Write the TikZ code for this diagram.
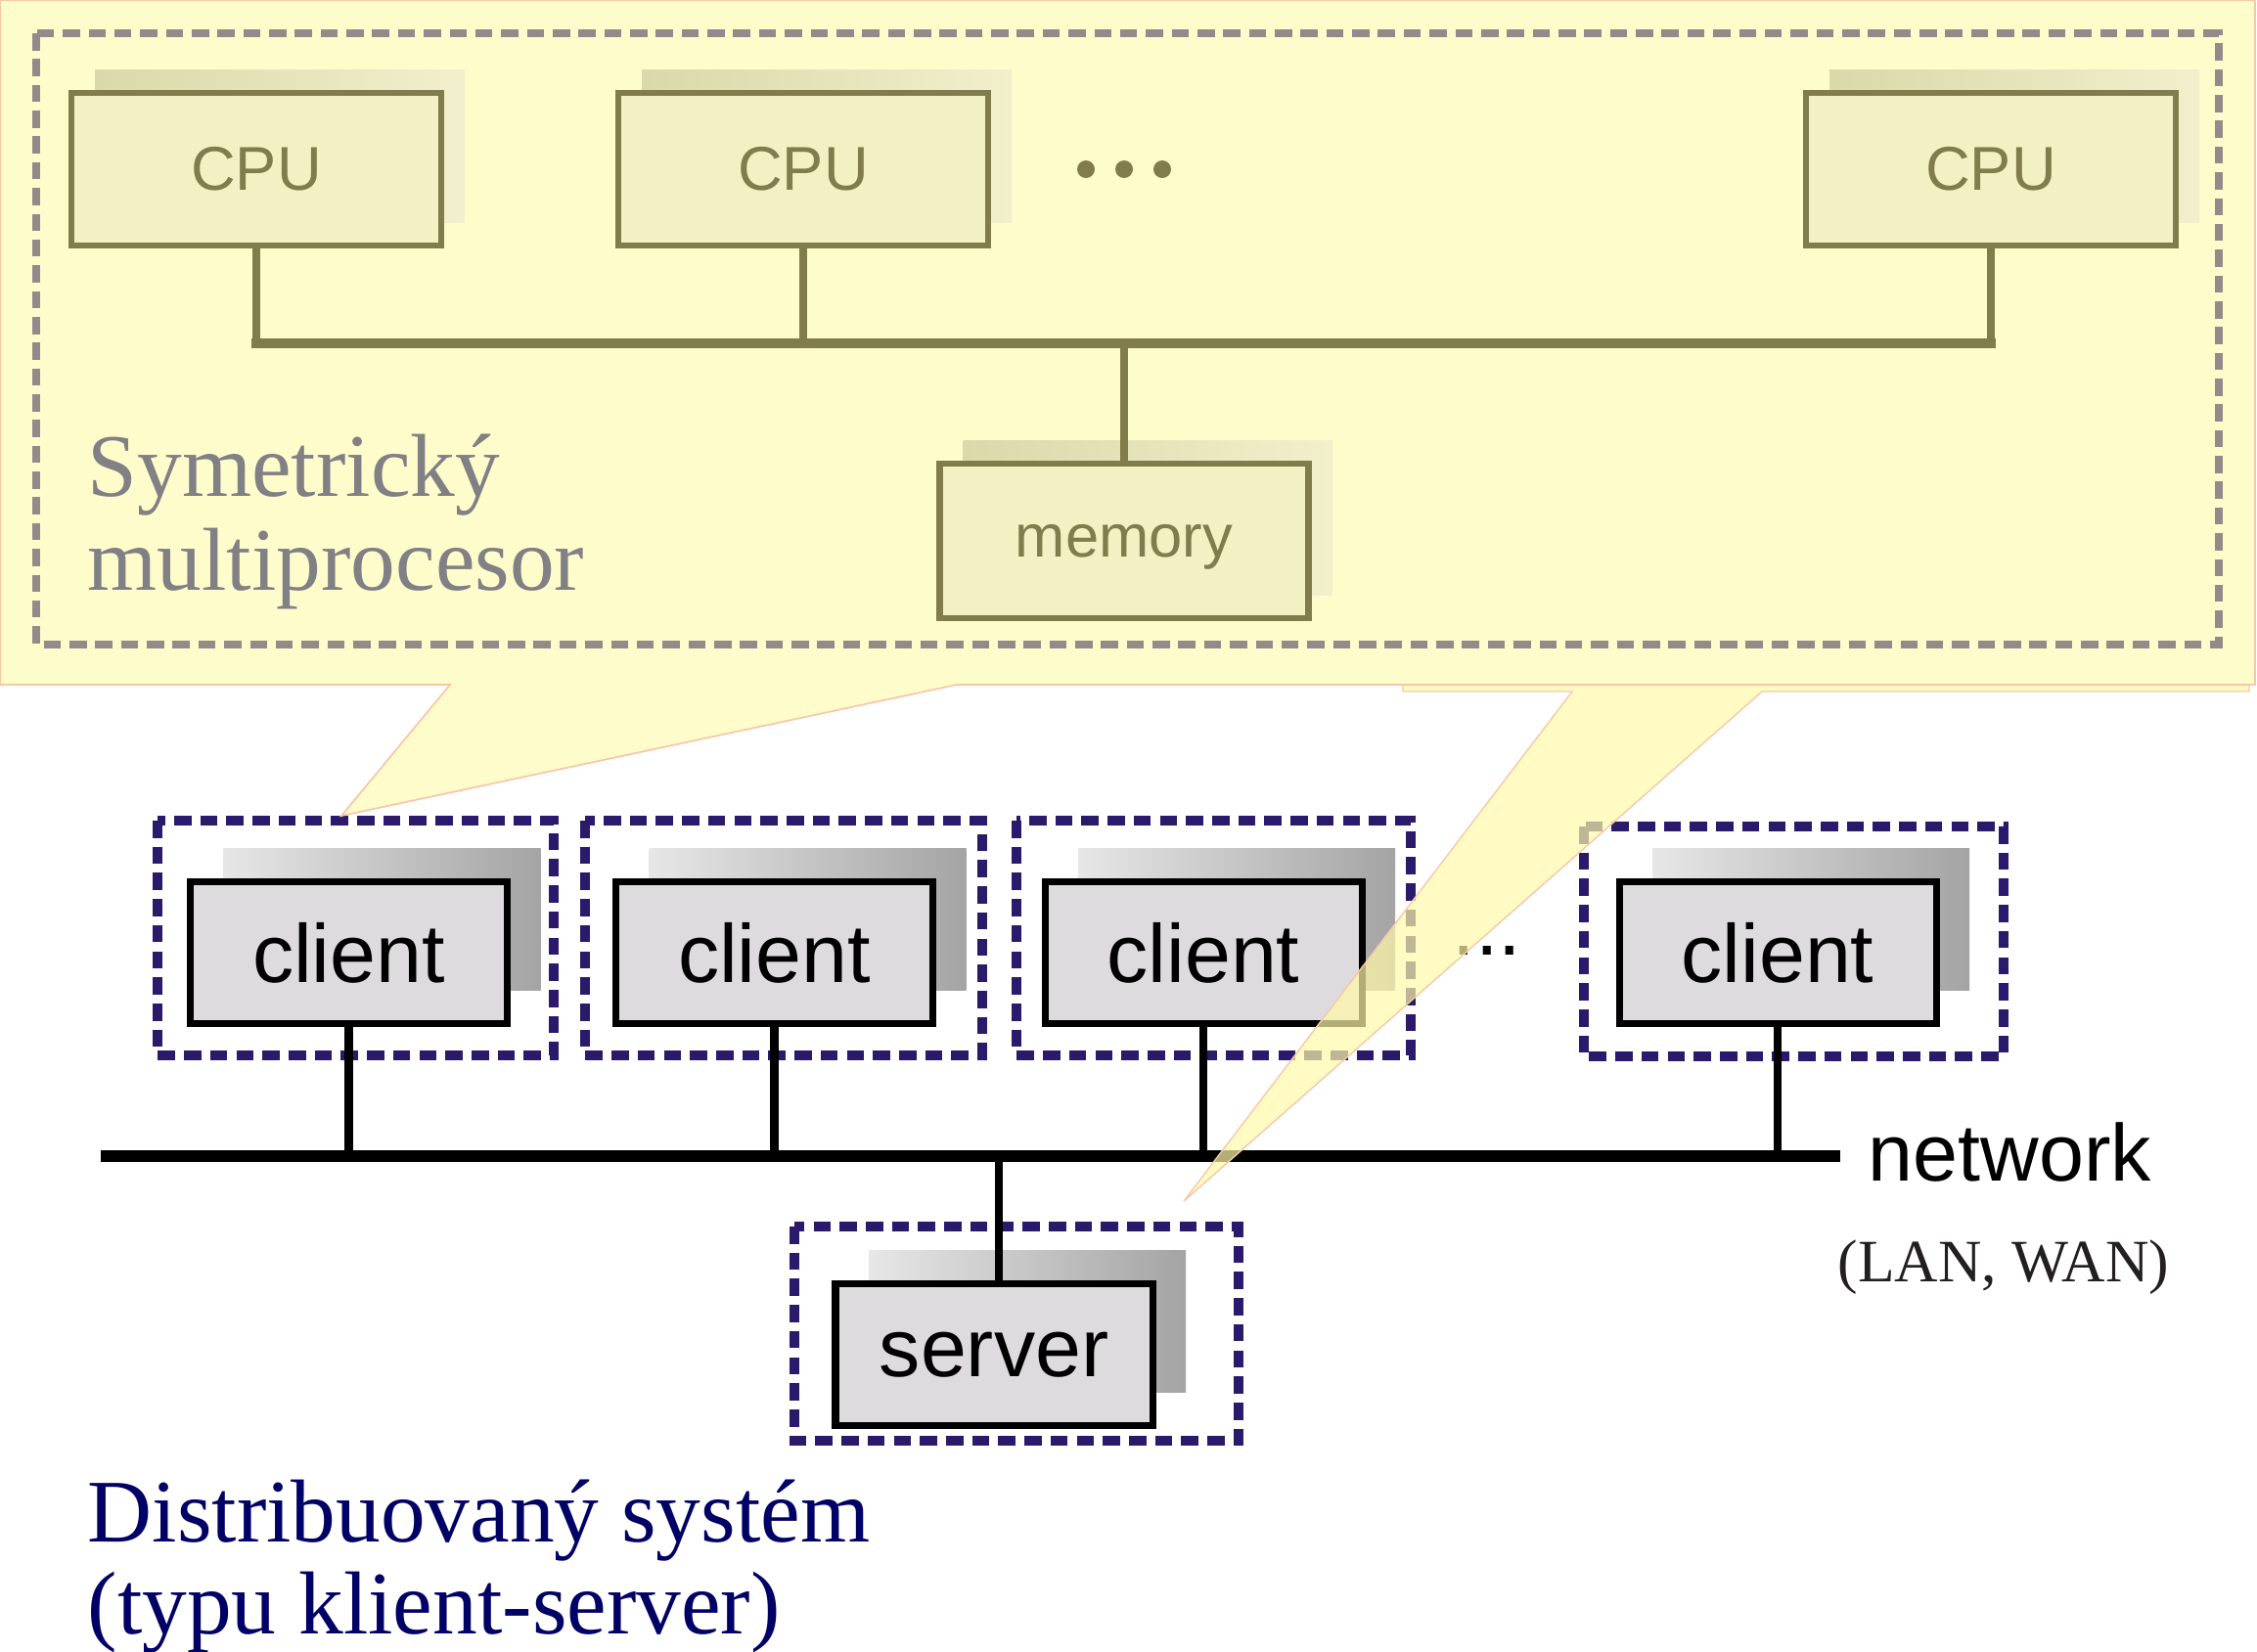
\documentclass[tikz,border=0pt]{standalone}
\usepackage{fontspec}
\setmainfont{Liberation Serif}
\setsansfont{Liberation Sans}
\usepackage{xcolor}
\usepackage{tikz}

\definecolor{panelyellow}{RGB}{255,252,204}
\definecolor{panelline}{RGB}{247,200,168}
\definecolor{calloutyellow}{RGB}{255,249,168}
\definecolor{framegray}{RGB}{148,138,138}
\definecolor{cpuline}{RGB}{128,124,76}
\definecolor{cpufill}{RGB}{243,240,195}
\definecolor{cpushadeL}{RGB}{219,216,170}
\definecolor{cpushadeR}{RGB}{242,239,204}
\definecolor{clientfill}{RGB}{221,219,222}
\definecolor{shadeL}{RGB}{231,231,231}
\definecolor{shadeR}{RGB}{164,164,164}
\definecolor{netnavy}{RGB}{43,26,107}
\definecolor{labelgray}{RGB}{128,128,133}
\definecolor{titlenavy}{RGB}{0,0,102}
\definecolor{lanblack}{RGB}{35,31,32}

\tikzset{
  cpubox/.style={draw=cpuline, line width=1.8pt, fill=cpufill, minimum width=3.78cm,
    minimum height=1.56cm, inner sep=0pt, text=cpuline, font=\sffamily\fontsize{18}{20}\selectfont},
  cpushade/.style={minimum width=3.78cm, minimum height=1.56cm, inner sep=0pt,
    left color=cpushadeL, right color=cpushadeR},
  clientbox/.style={draw=black, line width=2pt, fill=clientfill, minimum width=3.24cm,
    minimum height=1.45cm, inner sep=0pt, font=\sffamily\fontsize{24}{28}\selectfont},
  clientshade/.style={minimum width=3.24cm, minimum height=1.45cm, inner sep=0pt,
    left color=shadeL, right color=shadeR},
  netframe/.style={draw=netnavy, line width=2.6pt, dash pattern=on 5pt off 2.6pt},
  smpframe/.style={draw=framegray, line width=2.3pt, dash pattern=on 5pt off 2.5pt},
  netline/.style={line width=3.2pt},
  netlink/.style={line width=2.3pt},
  busline/.style={draw=cpuline, line width=3pt, line cap=rect},
  cpulink/.style={draw=cpuline, line width=2.1pt},
  bigserif/.style={font=\fontsize{26}{28}\selectfont, inner sep=0pt, anchor=base west},
}

\begin{document}
\begin{tikzpicture}[x=1cm,y=-1cm]

\useasboundingbox (0,0) rectangle (23.07,16.88);

% client-server part
\coordinate(netL) at (1.03, 11.82);
\coordinate(netR) at (18.81, 11.82);
\coordinate(srvtap) at (10.21, 11.82);

\node[clientshade] (c1sh) at (3.905, 9.40) {};
\node[clientshade] (c2sh) at (8.255, 9.40) {};
\node[clientshade] (c3sh) at (12.64, 9.40) {};
\node[clientshade] (c4sh) at (18.51, 9.40) {};
\node[clientshade] (srvsh) at (10.50, 13.51) {};

\node[clientbox] (c1) at (3.565, 9.74) {client};
\node[clientbox] (c2) at (7.915, 9.74) {client};
\node[clientbox] (c3) at (12.30, 9.74) {client};
\node[clientbox] (c4) at (18.17, 9.74) {client};
\node[clientbox] (srv) at (10.16, 13.85) {server};

\draw [netframe] (1.61, 8.39) rectangle (5.66, 10.79);
\draw [netframe] (5.98, 8.39) rectangle (10.04, 10.79);
\draw [netframe] (10.39, 8.39) rectangle (14.42, 10.79);
\draw [netframe] (16.19, 8.45) rectangle (20.48, 10.80);
\draw [netframe] (8.12, 12.54) rectangle (12.66, 14.73);

\draw [netline] (netL) -- (netR);
\draw [netlink] (c1.south) -- (c1.south |- netL);
\draw [netlink] (c2.south) -- (c2.south |- netL);
\draw [netlink] (c3.south) -- (c3.south |- netL);
\draw [netlink] (c4.south) -- (c4.south |- netL);
\draw [netlink] (srvtap) -- (srvtap |- srv.north);

\node[font=\sffamily\fontsize{24}{28}\selectfont, inner sep=0pt] (more) at (15.20, 9.72) {...};
\node[font=\sffamily\fontsize{23.5}{26}\selectfont, inner sep=0pt, anchor=base west] (net) at (19.09, 12.07) {network};
\node[font=\fontsize{17.5}{19}\selectfont, text=lanblack, inner sep=0pt, anchor=base] (lan) at (20.48, 13.10) {(LAN, WAN)};

\node[bigserif, text=titlenavy] (dist1) at (0.89, 15.76) {Distribuovaný systém};
\node[bigserif, text=titlenavy] (dist2) at (0.89, 16.70) {(typu klient-server)};

% second callout, mostly behind the panel
\draw [panelline, line width=0.4pt, fill=calloutyellow, fill opacity=0.7]
  (14.34, 6.50) -- (22.99, 6.50) -- (22.99, 7.07) -- (18.01, 7.07) -- (12.10, 12.28)
  -- (16.07, 7.07) -- (14.34, 7.07) -- cycle;

% symmetric multiprocessor panel
\draw [panelline, line width=0.5pt, fill=panelyellow]
  (0, 0) -- (23.05, 0) -- (23.05, 7.00) -- (9.78, 7.00) -- (3.49, 8.34)
  -- (4.60, 7.00) -- (0, 7.00) -- cycle;
\draw [smpframe] (0.37, 0.34) rectangle (22.68, 6.59);

\coordinate(busL) at (2.62, 3.51);
\coordinate(busR) at (20.35, 3.51);

\node[cpushade] (cpu1sh) at (2.86, 1.49) {};
\node[cpushade] (cpu2sh) at (8.45, 1.49) {};
\node[cpushade] (cpu3sh) at (20.59, 1.49) {};
\node[cpushade, minimum width=3.77cm, minimum height=1.58cm] (memsh) at (11.73, 5.29) {};

\node[cpubox] (cpu1) at (2.62, 1.73) {CPU};
\node[cpubox] (cpu2) at (8.21, 1.73) {CPU};
\node[cpubox] (cpu3) at (20.35, 1.73) {CPU};
\node[cpubox, minimum width=3.77cm, minimum height=1.58cm, text depth=0pt,
  font=\sffamily\fontsize{17.5}{20}\selectfont] (mem) at (11.49, 5.53) {memory};

\draw [busline] (busL) -- (busR);
\draw [cpulink] (cpu1.south) -- (cpu1.south |- busL);
\draw [cpulink] (cpu2.south) -- (cpu2.south |- busL);
\draw [cpulink] (cpu3.south) -- (cpu3.south |- busL);
\draw [cpulink] (mem.north) -- (mem.north |- busL);

\fill [cpuline] (11.10, 1.73) circle (0.09);
\fill [cpuline] (11.49, 1.73) circle (0.09);
\fill [cpuline] (11.88, 1.73) circle (0.09);

\node[bigserif, text=labelgray] (smp1) at (0.89, 5.07) {Symetrický};
\node[bigserif, text=labelgray] (smp2) at (0.89, 6.03) {multiprocesor};

\end{tikzpicture}
\end{document}
